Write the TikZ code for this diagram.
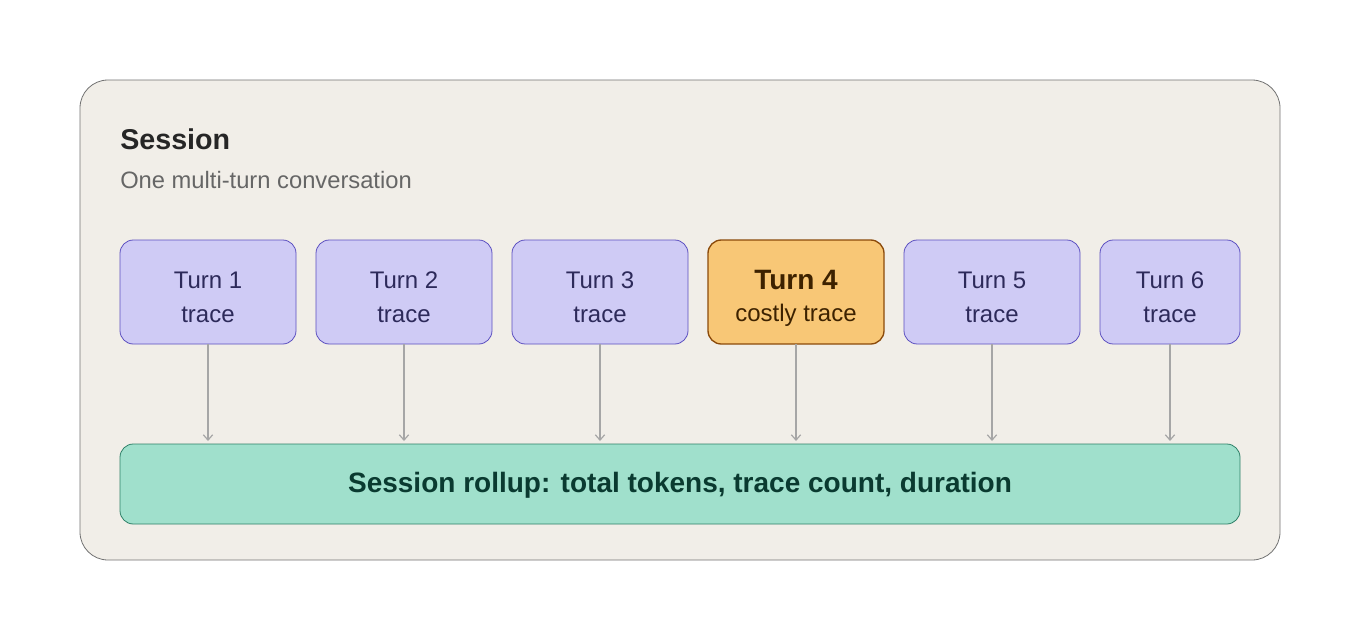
\documentclass[tikz,border=0pt]{standalone}
\usepackage{fontspec}
\setmainfont{Liberation Sans}
\usetikzlibrary{arrows.meta}
\definecolor{bg}{HTML}{F1EEE8}
\definecolor{turnf}{HTML}{CFCBF5}
\definecolor{turnd}{HTML}{5B4FC0}
\definecolor{turnt}{HTML}{2D2A5A}
\definecolor{hotf}{HTML}{F8C776}
\definecolor{hotd}{HTML}{8B4A0A}
\definecolor{hott}{HTML}{3D2200}
\definecolor{rollf}{HTML}{A0E0CC}
\definecolor{rolld}{HTML}{2E8068}
\definecolor{rollt}{HTML}{0A3A30}
\begin{document}
\begin{tikzpicture}[x=0.75pt,y=-0.75pt,
  turn/.style={draw=turnd,fill=turnf,rounded corners=10pt,line width=0.6pt},
  hot/.style={draw=hotd,fill=hotf,rounded corners=10pt,line width=1pt},
  lbl/.style={text=turnt,font=\fontsize{18}{20}\selectfont,inner sep=0pt},
  arr/.style={draw=black!35,line width=0.9pt,-{Straight Barb[length=4pt,width=7pt]}}]
\useasboundingbox (0,0) rectangle (1360,640);
\fill[white] (0,0) rectangle (1360,640);
\draw[fill=bg,draw=black!55,line width=0.6pt,rounded corners=21pt] (80,80) rectangle (1280,560);
\node[anchor=base west,inner sep=0pt,font=\bfseries\fontsize{21.5}{24}\selectfont,text=black!85] (title) at (120,149) {Session};
\node[anchor=base west,inner sep=0pt,font=\fontsize{17.8}{20}\selectfont,text=black!60] (sub) at (120,188) {One multi-turn conversation};
\foreach \n/\a/\b in {1/120/296,2/316/492,3/512/688,5/904/1080,6/1100/1240}{
  \draw[turn] (\a,240) rectangle (\b,344);
  \node[lbl] (t\n) at ({(\a+\b)/2},280) {Turn \n};
  \node[lbl] (u\n) at ({(\a+\b)/2},315) {trace};
  \coordinate (s\n) at ({(\a+\b)/2},344);
  \coordinate (e\n) at ({(\a+\b)/2},441);
  \draw[arr] (s\n) -- (e\n);
}
\draw[hot] (708,240) rectangle (884,344);
\node[text=hott,inner sep=0pt,font=\bfseries\fontsize{21}{24}\selectfont] (t4) at (796,280) {Turn 4};
\node[text=hott,inner sep=0pt,font=\fontsize{18}{20}\selectfont] (u4) at (796,315) {costly trace};
\coordinate (s4) at (796,344);
\coordinate (e4) at (796,441);
\draw[arr] (s4) -- (e4);
\draw[draw=rolld,fill=rollf,rounded corners=10pt,line width=0.6pt] (120,444) rectangle (1240,524);
\node[text=rollt,inner sep=0pt,font=\bfseries\fontsize{21}{24}\selectfont] (roll) at (680,485) {Session rollup: total tokens, trace count, duration};
\end{tikzpicture}
\end{document}
